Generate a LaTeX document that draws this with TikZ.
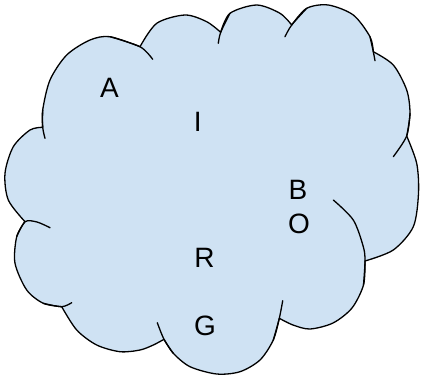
\documentclass[tikz,border=0pt]{standalone}
\usepackage{fontspec}
\setmainfont{Liberation Sans}
\definecolor{cloudfill}{HTML}{CFE2F3}
\tikzset{
  cloudshape/.style={fill=cloudfill, draw=black, line width=1.3pt, line join=round},
  cloudline/.style={draw=black, line width=1.3pt, line cap=round},
  letter/.style={inner sep=0pt, font=\fontsize{28}{30}\selectfont}
}
\begin{document}
\begin{tikzpicture}[x=1pt,y=-1pt]
\useasboundingbox (0,0) rectangle (421,378);
% cloud outline, bump by bump
\path[cloudshape]
  plot[smooth] coordinates {(42.7,127.3) (42.7,110) (50,80) (66.7,55) (90,40) (110,36.7) (140,46.7)}
  -- plot[smooth] coordinates {(140,46.7) (156.7,23.3) (185,15) (206.7,21.7) (220.7,32.3)}
  -- plot[smooth] coordinates {(220.7,32.3) (230,13.3) (256.7,5) (280,13.3) (291.7,25)}
  -- plot[smooth] coordinates {(291.7,25) (306.7,8.3) (328.3,5) (353.3,15) (370,36.7) (373.3,51.7)}
  -- plot[smooth] coordinates {(373.3,51.7) (393.3,65) (406.7,90) (410,113.3) (406.7,136)}
  -- plot[smooth] coordinates {(406.7,136) (416.7,163.3) (418.5,193.3) (413.3,226.7) (393.3,250) (365,261)}
  -- plot[smooth] coordinates {(365,261) (363.5,285) (352,308) (333,323) (310,329) (293,325) (279.3,318.3)}
  -- plot[smooth] coordinates {(279.3,318.3) (273.3,340) (260,360) (240,371.7) (216.7,374) (190,366.7) (173.3,353.3) (164,339.3)}
  -- plot[smooth] coordinates {(164,339.3) (153.3,345) (140,350) (120,351.7) (96.7,345) (76.7,330) (61.7,306.7)}
  -- plot[smooth] coordinates {(61.7,306.7) (43.3,303.3) (26.7,290) (15,263.3) (16.7,236.7) (25,221.7)}
  -- plot[smooth] coordinates {(25,221.7) (8.3,200) (5,173.3) (13.3,146.7) (30,130) (42.7,127.3)}
  -- cycle;
% inner tails of the bumps
\draw[cloudline] plot[smooth] coordinates {(42.7,110) (42.7,127.3) (45,138.3)};
\draw[cloudline] plot[smooth] coordinates {(110,36.7) (140,46.7) (152.7,59.3)};
\draw[cloudline] plot[smooth] coordinates {(230,13.3) (220.7,32.3) (218.3,43.3)};
\draw[cloudline] plot[smooth] coordinates {(306.7,8.3) (291.7,25) (285,36.7)};
\draw[cloudline] plot[smooth] coordinates {(370,36.7) (373.3,51.7) (375,60.7)};
\draw[cloudline] plot[smooth] coordinates {(410,113.3) (406.7,136) (393.3,156.7)};
\draw[cloudline] plot[smooth] coordinates {(333.3,200) (353.3,220) (363.3,246.7) (365,261) (363.5,285)};
\draw[cloudline] plot[smooth] coordinates {(273.3,340) (279.3,318.3) (282.7,300.7)};
\draw[cloudline] plot[smooth] coordinates {(173.3,353.3) (164,339.3) (157.3,322.7)};
\draw[cloudline] plot[smooth] coordinates {(43.3,303.3) (61.7,306.7) (71.7,302.7)};
\draw[cloudline] plot[smooth] coordinates {(16.7,236.7) (25,221.7) (37,222) (50,227.7)};
% letters
\node[letter] (a) at (109.5,88) {A};
\node[letter] (i) at (197.7,122) {I};
\node[letter] (b) at (298,190) {B};
\node[letter] (o) at (299,224) {O};
\node[letter] (r) at (204.5,258) {R};
\node[letter] (g) at (205,326) {G};
\end{tikzpicture}
\end{document}
